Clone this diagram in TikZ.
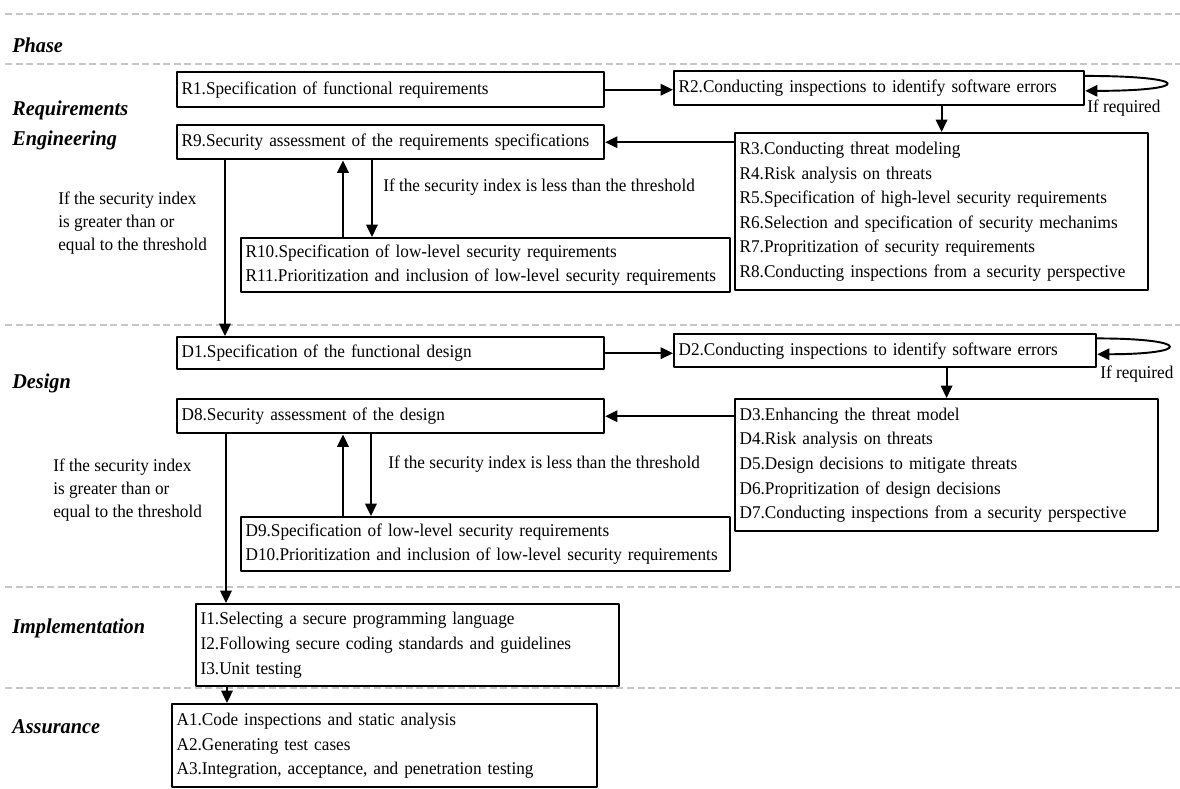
\documentclass[tikz,border=0pt]{standalone}
\usepackage{fontspec}
\setmainfont{Liberation Serif}[FakeStretch=0.96]
\usetikzlibrary{arrows.meta}
\begin{document}
\begin{tikzpicture}[x=0.02cm,y=-0.02cm,>={Triangle[length=7pt,width=6.5pt]},line join=round,
	font=\fontsize{10.2}{14}\selectfont,
	box/.style={draw,line width=1.4pt,anchor=north west,align=left,inner xsep=2.5pt,inner ysep=1pt},
	phase/.style={anchor=west,align=left,inner sep=0pt,font=\fontsize{12}{17}\selectfont\bfseries\itshape},
	note/.style={anchor=west,align=left,inner sep=0pt,font=\fontsize{10.2}{13}\selectfont},
	link/.style={->,line width=1.1pt}]
	\useasboundingbox (0,0) rectangle (1180,788);
	% phase separators
	\foreach \y in {14,64,325,587,688}
		\draw [gray!45,line width=0.6pt,dash pattern=on 4pt off 2pt] (5,\y) -- (1180,\y);
	\node [phase] (ph) at (12,45) {Phase};
	\node [phase] (phR) at (12,125) {Requirements\\Engineering};
	\node [phase] (phD) at (12,383) {Design};
	\node [phase] (phI) at (12,628) {Implementation};
	\node [phase] (phA) at (12,727) {Assurance};
	% requirements engineering
	\node [box,text width=8.36cm,minimum height=0.70cm] (R1) at (176,71) {R1.Specification of functional requirements};
	\node [box,text width=8.02cm,minimum height=0.68cm] (R2) at (673,70) {R2.Conducting inspections to identify software errors};
	\node [box,text width=8.36cm,minimum height=0.68cm] (R9) at (176,124) {R9.Security assessment of the requirements specifications};
	\node [box,text width=8.08cm,minimum height=3.14cm] (Rsec) at (734,132) {R3.Conducting threat modeling\\R4.Risk analysis on threats\\R5.Specification of high-level security requirements\\R6.Selection and specification of security mechanims\\R7.Propritization of security requirements\\R8.Conducting inspections from a security perspective};
	\node [box,text width=9.6cm,minimum height=1.08cm] (R10) at (240,237) {R10.Specification of low-level security requirements\\R11.Prioritization and inclusion of low-level security requirements};
	\node [note] (lessR) at (383,187) {If the security index is less than the threshold};
	\node [note] (geqR) at (58,223) {If the security index\\is greater than or\\equal to the threshold};
	\node [note] (reqR) at (1087,108) {If required};
	\draw [link] (R1.east) -- (R1.east -| R2.west);
	\draw [link] ([yshift=7pt]R2.east) .. controls +(108,0) and +(108,0) .. ([yshift=-1.5pt]R2.east);
	\draw [link] (R2.south -| Rsec.north) -- (Rsec.north);
	\draw [link] (Rsec.west |- R9.east) -- (R9.east);
	\draw [link] ([xshift=2.06cm]R10.north west) coordinate (upR) -- (upR |- R9.south);
	\coordinate (dnR) at ([xshift=2.64cm]R10.north west);
	\draw [link] (dnR |- R9.south) -- (dnR);
	% design
	\node [box,text width=8.36cm,minimum height=0.64cm] (D1) at (176,336) {D1.Specification of the functional design};
	\node [box,text width=8.26cm,minimum height=0.66cm] (D2) at (673,333) {D2.Conducting inspections to identify software errors};
	\node [box,text width=8.36cm,minimum height=0.68cm] (D8) at (176,398) {D8.Security assessment of the design};
	\node [box,text width=8.28cm,minimum height=2.64cm] (Dsec) at (734,398) {D3.Enhancing the threat model\\D4.Risk analysis on threats\\D5.Design decisions to mitigate threats\\D6.Propritization of design decisions\\D7.Conducting inspections from a security perspective};
	\node [box,text width=9.6cm,minimum height=1.08cm] (D9) at (240,516) {D9.Specification of low-level security requirements\\D10.Prioritization and inclusion of low-level security requirements};
	\node [note] (lessD) at (388,464) {If the security index is less than the threshold};
	\node [note] (geqD) at (53,490) {If the security index\\is greater than or\\equal to the threshold};
	\node [note] (reqD) at (1100,374) {If required};
	\draw [link] ([xshift=0.98cm]R9.south west) coordinate (gR) -- (gR |- D1.north);
	\draw [link] (D1.east) -- (D1.east -| D2.west);
	\draw [link] ([yshift=7pt]D2.east) .. controls +(95,0) and +(95,0) .. ([yshift=-2pt]D2.east);
	\draw [link] (D2.south -| Dsec.north) -- (Dsec.north);
	\draw [link] (Dsec.west |- D8.east) -- (D8.east);
	\draw [link] ([xshift=2.06cm]D9.north west) coordinate (upD) -- (upD |- D8.south);
	\coordinate (dnD) at ([xshift=2.62cm]D9.north west);
	\draw [link] (dnD |- D8.south) -- (dnD);
	% implementation and assurance
	\node [box,text width=8.28cm,minimum height=1.64cm] (I) at (195,603) {I1.Selecting a secure programming language\\I2.Following secure coding standards and guidelines\\I3.Unit testing};
	\node [box,text width=8.32cm,minimum height=1.66cm] (A) at (171,703) {A1.Code inspections and static analysis\\A2.Generating test cases\\A3.Integration, acceptance, and penetration testing};
	\draw [link] ([xshift=1.0cm]D8.south west) coordinate (gD) -- (gD |- I.north);
	\draw [link] ([xshift=0.64cm]I.south west) coordinate (gI) -- (gI |- A.north);
\end{tikzpicture}
\end{document}
